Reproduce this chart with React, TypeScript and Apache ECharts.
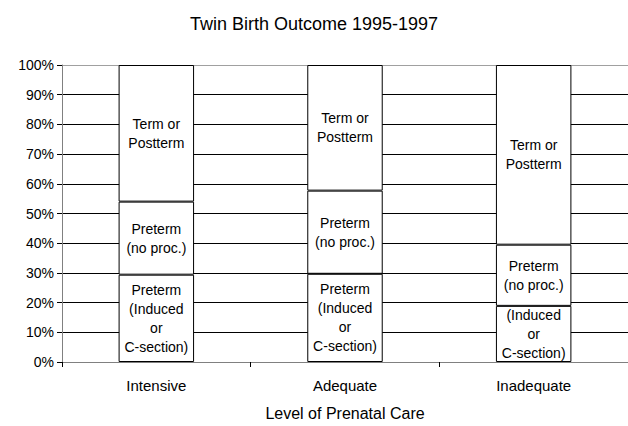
import React, { useEffect, useRef } from "react";
import * as echarts from "echarts";

const categories = ["Intensive", "Adequate", "Inadequate"];
const inducedValues = [29.4, 29.7, 18.9];
const noProcValues = [24.6, 28.0, 20.6];
const termValues = [46.0, 42.3, 60.5];
const inducedLabels = [
  "Preterm\n(Induced\nor\nC-section)",
  "Preterm\n(Induced\nor\nC-section)",
  "(Induced\nor\nC-section)",
];
const noProcLabels = ["Preterm\n(no proc.)", "Preterm\n(no proc.)", "Preterm\n(no proc.)"];
const termLabels = ["Term or\nPostterm", "Term or\nPostterm", "Term or\nPostterm"];
const yTicks = [0, 10, 20, 30, 40, 50, 60, 70, 80, 90, 100];

const FONT = "'Liberation Sans', Arial, sans-serif";

function makeSeries(name: string, values: number[], labels: string[]) {
  return {
    name,
    type: "bar",
    stack: "total",
    barWidth: "40%",
    itemStyle: { color: "#ffffff", borderColor: "#000000", borderWidth: 1 },
    label: {
      show: true,
      position: "inside",
      color: "#000",
      fontFamily: FONT,
      fontSize: 14,
      lineHeight: 19,
    },
    data: values.map((v, i) => ({ value: v, label: { formatter: labels[i] } })),
  };
}

export default function App() {
  const ref = useRef<HTMLDivElement>(null);
  useEffect(() => {
    document.body.style.margin = "0";
    const chart = echarts.init(ref.current!, null, { renderer: "svg" });
    const gridColors = yTicks.map((t) => (t === 100 ? "#a0a0a0" : "#000000"));
    chart.setOption({
      animation: false,
      backgroundColor: "#ffffff",
      title: {
        text: "Twin Birth Outcome 1995-1997",
        left: "center",
        top: 10,
        textStyle: { fontFamily: FONT, fontSize: 18, fontWeight: "normal", color: "#000" },
      },
      grid: { left: 62, right: -5, top: 65, height: 302, containLabel: false },
      xAxis: {
        type: "category",
        data: categories,
        name: "Level of Prenatal Care",
        nameLocation: "middle",
        nameGap: 43,
        nameTextStyle: { fontFamily: FONT, fontSize: 16, color: "#000" },
        axisLine: { lineStyle: { color: "#808080", width: 1 } },
        axisTick: { show: true, length: 5, inside: false, lineStyle: { color: "#000" } },
        axisLabel: { fontFamily: FONT, fontSize: 15, color: "#000", margin: 16 },
      },
      yAxis: {
        type: "value",
        min: 0,
        max: 100,
        interval: 10,
        axisLine: { show: true, lineStyle: { color: "#808080", width: 1 } },
        axisTick: { show: true, length: 5, lineStyle: { color: "#000" } },
        axisLabel: { fontFamily: FONT, fontSize: 14, color: "#000", formatter: "{value}%", margin: 8 },
        splitLine: { show: true, lineStyle: { color: gridColors, width: 1 } },
      },
      series: [
        makeSeries("Preterm (Induced or C-section)", inducedValues, inducedLabels),
        makeSeries("Preterm (no proc.)", noProcValues, noProcLabels),
        makeSeries("Term or Postterm", termValues, termLabels),
      ],
    });
    return () => chart.dispose();
  }, []);
  return <div ref={ref} style={{ width: 628, height: 426 }} />;
}
